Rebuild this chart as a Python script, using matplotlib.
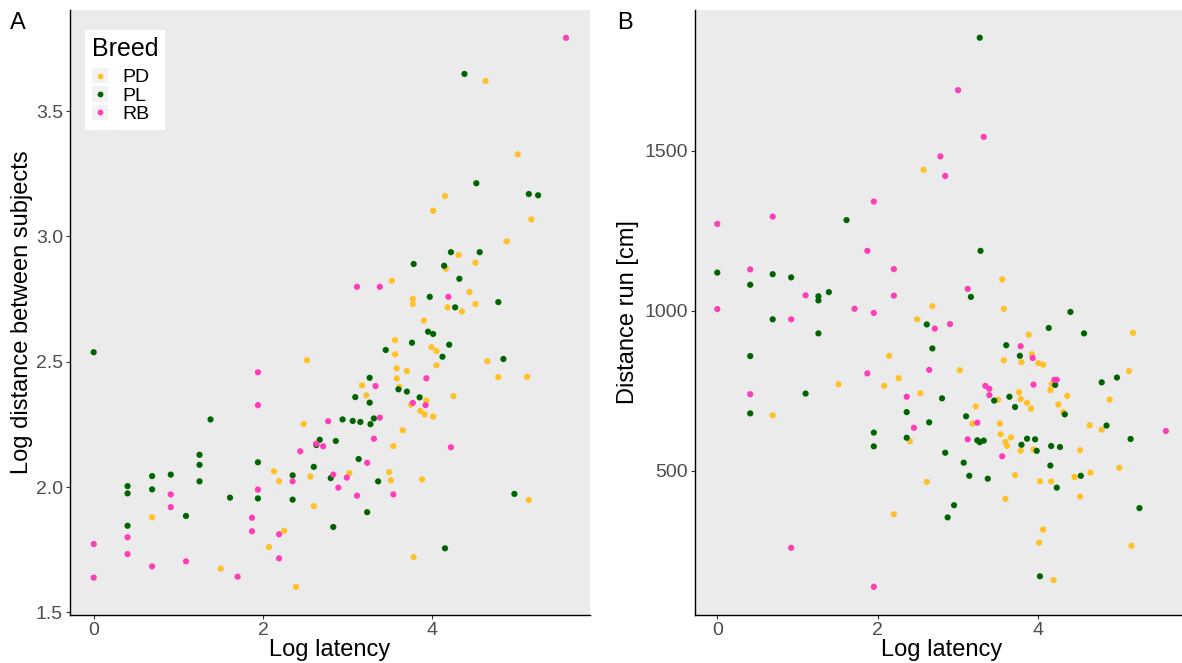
import matplotlib
matplotlib.use("Agg")
import matplotlib.pyplot as plt
from matplotlib.legend_handler import HandlerBase
from matplotlib.patches import Rectangle
from matplotlib.lines import Line2D

plt.rcParams['font.family'] = ['Liberation Sans', 'DejaVu Sans']

breeds = ["PD", "PL", "RB"]
colors = {"PD": "#FFC125", "PL": "#006400", "RB": "#FF3DB8"}

# ---------------- Panel A: log latency vs log distance between subjects
pd_lat_a = [0.69,1.50,2.52,3.56,3.56,3.58,3.70,3.58,3.17,3.61,3.22,3.75,3.93,3.86,3.91,2.48,3.65,3.54,2.13,2.19,
            2.56,3.02,3.49,3.51,3.88,2.60,2.25,2.07,3.78,2.39,3.99,4.05,4.05,4.65,4.78,5.12,4.25,4.01,5.14,4.63,
            5.01,4.15,4.01,5.17,4.88,4.31,4.16,4.51,3.52,4.44,3.77,3.77,4.18,4.35,4.51,3.90]
pd_dist_a = [1.880,1.675,2.506,2.586,2.530,2.474,2.463,2.434,2.406,2.400,2.366,2.329,2.345,2.304,2.290,2.252,2.227,2.164,2.063,2.024,
             2.042,2.056,2.060,2.027,2.031,1.924,1.826,1.761,1.721,1.602,2.558,2.543,2.486,2.502,2.439,2.440,2.363,2.281,1.949,3.620,
             3.327,3.161,3.102,3.068,2.980,2.926,2.871,2.895,2.823,2.778,2.751,2.730,2.717,2.701,2.730,2.664]

pl_lat_a = [0.00,1.38,1.25,1.25,1.25,1.94,0.69,0.91,0.40,0.40,0.69,1.94,1.61,1.09,0.40,3.76,3.45,3.95,3.26,3.60,
            3.70,3.09,3.26,3.85,2.94,3.06,3.15,3.31,3.27,2.67,2.63,2.86,3.13,2.60,2.35,2.80,3.36,2.35,3.23,2.83,
            4.01,4.20,4.12,4.84,4.97,4.15,4.38,4.52,5.14,5.25,4.22,4.56,3.78,4.14,4.32,3.97,4.27,4.78]
pl_dist_a = [2.538,2.270,2.129,2.089,2.023,2.099,2.044,2.050,2.004,1.975,1.991,1.955,1.958,1.885,1.846,2.576,2.547,2.620,2.436,2.390,
             2.381,2.359,2.337,2.358,2.270,2.264,2.260,2.274,2.251,2.189,2.168,2.184,2.112,2.081,2.047,2.036,2.023,1.950,1.900,1.841,
             2.611,2.568,2.520,2.511,1.973,1.756,3.648,3.212,3.169,3.164,2.937,2.937,2.890,2.883,2.831,2.759,2.717,2.738]

rb_lat_a = [1.94,1.94,0.91,1.94,0.91,1.87,1.87,0.40,0.00,0.40,1.09,0.69,1.70,0.00,3.93,3.33,3.77,3.92,2.77,3.38,
            3.31,2.63,2.71,2.44,3.23,2.35,2.83,2.99,2.89,3.54,3.11,2.19,2.19,4.22,5.58,3.11,3.38,4.19]
rb_dist_a = [2.458,2.327,1.971,1.990,1.920,1.878,1.824,1.800,1.773,1.733,1.704,1.684,1.643,1.639,2.434,2.403,2.336,2.327,2.263,2.277,
             2.193,2.173,2.163,2.143,2.097,2.023,2.050,2.038,1.998,1.971,1.966,1.812,1.716,2.159,3.792,2.799,2.799,2.759]

# ---------------- Panel B: log latency vs distance run [cm]
pd_lat_b = [1.51,0.69,2.57,3.55,2.68,3.57,2.49,3.88,3.79,3.57,2.14,3.02,2.26,2.08,2.53,3.50,3.76,3.78,3.86,3.22,
            3.18,3.52,2.40,3.53,3.66,3.59,3.61,3.78,3.71,2.61,3.59,2.20,5.18,3.92,4.00,4.06,5.13,4.17,4.15,4.36,
            3.91,4.25,4.89,4.31,4.64,4.79,3.94,4.52,5.01,4.45,4.65,4.02,4.16,4.52,4.06,4.01,5.16,4.19]
pd_run_b = [771,674,1441,1099,1015,1007,974,926,840,846,860,815,790,766,743,723,746,725,713,702,
            648,648,593,615,605,591,578,563,487,466,413,365,932,865,837,832,812,772,753,735,
            695,708,723,684,643,629,567,565,510,481,495,468,467,420,317,276,266,159]

pl_lat_b = [1.61,0.00,0.69,0.92,0.41,1.26,1.26,1.39,0.69,1.26,0.41,1.10,0.41,1.95,1.95,3.27,3.28,3.16,2.61,3.60,
            3.77,2.68,2.80,3.45,3.64,3.71,3.10,2.36,2.64,2.36,3.24,3.27,3.32,3.86,3.79,2.84,3.07,3.14,3.37,2.95,
            2.87,4.40,4.13,4.57,4.98,4.79,4.21,4.33,4.85,5.15,3.96,3.98,4.16,4.27,4.15,4.53,4.23,5.26,4.02]
pl_run_b = [1284,1120,1115,1105,1082,1046,1033,1059,974,930,859,742,680,620,577,1854,1188,1044,958,893,
            860,883,727,720,732,700,671,684,652,604,596,590,595,601,582,557,526,485,476,393,
            355,997,947,930,792,777,769,677,642,600,599,563,578,575,517,485,448,384,171]

rb_lat_b = [1.95,0.00,0.69,1.87,0.41,1.10,1.71,1.95,0.00,0.92,1.87,0.41,0.92,1.95,3.00,3.32,2.78,2.84,2.20,3.12,
            2.20,2.71,2.90,3.78,2.64,2.36,3.34,3.39,3.39,3.24,2.45,3.12,3.55,3.93,4.20,4.23,3.94,5.59]
rb_run_b = [1342,1272,1295,1188,1130,1049,1007,994,1006,974,805,740,260,138,1690,1544,1483,1422,1131,1069,
            1048,945,959,890,816,732,766,757,737,651,635,599,546,853,785,785,770,625]

panel_a = {"PD": (pd_lat_a, pd_dist_a), "PL": (pl_lat_a, pl_dist_a), "RB": (rb_lat_a, rb_dist_a)}
panel_b = {"PD": (pd_lat_b, pd_run_b), "PL": (pl_lat_b, pl_run_b), "RB": (rb_lat_b, rb_run_b)}

W, H = 1182, 663
fig = plt.figure(figsize=(W / 100, H / 100), dpi=100)

def fx(px):
    return px / W

def fy(py):
    return 1 - py / H

axA = fig.add_axes([fx(70), fy(615), fx(590) - fx(70), fy(10) - fy(615)])
axB = fig.add_axes([fx(695), fy(615), fx(1187.5) - fx(695), fy(10) - fy(615)])

def style(ax):
    ax.set_facecolor("#EBEBEB")
    for s in ["top", "right"]:
        ax.spines[s].set_visible(False)
    for s in ["left", "bottom"]:
        ax.spines[s].set_color("black")
        ax.spines[s].set_linewidth(1.0)
    ax.tick_params(axis="both", colors="#333333", labelcolor="#4D4D4D",
                   labelsize=14, length=3, width=0.8, pad=2)
    ax.set_xlabel("Log latency", fontsize=17, color="black", labelpad=0)

scatters = {}
for ax, data in [(axA, panel_a), (axB, panel_b)]:
    style(ax)
    for b in breeds:
        x, y = data[b]
        sc = ax.scatter(x, y, s=20, color=colors[b], edgecolors="none", zorder=3, label=b)
        if ax is axA:
            scatters[b] = sc

axA.set_xlim(-0.28, 5.863)
axA.set_ylim(1.490, 3.903)
axA.set_xticks([0, 2, 4])
axA.set_yticks([1.5, 2.0, 2.5, 3.0, 3.5])
axA.set_yticklabels(["1.5", "2.0", "2.5", "3.0", "3.5"])
axA.set_ylabel("Log distance between subjects", fontsize=17, color="black", labelpad=2)

axB.set_xlim(-0.278, 5.859)
axB.set_ylim(50, 1940.6)
axB.set_xticks([0, 2, 4])
axB.set_yticks([500, 1000, 1500])
axB.set_ylabel("Distance run [cm]", fontsize=17, color="black", labelpad=4)

fig.text(fx(10), fy(23), "A", fontsize=17, va="center", ha="left")
fig.text(fx(617), fy(23), "B", fontsize=17, va="center", ha="left")


class KeyHandler(HandlerBase):
    def create_artists(self, legend, orig_handle, xdescent, ydescent,
                       width, height, fontsize, trans):
        side = min(width, height)
        x0 = -xdescent + (width - side) / 2
        y0 = -ydescent + (height - side) / 2
        rect = Rectangle((x0, y0), side, side, facecolor="#F2F2F2",
                         edgecolor="none", transform=trans)
        dot = Line2D([x0 + side / 2], [y0 + side / 2], marker="o", linestyle="none",
                     markersize=4.2, markerfacecolor=orig_handle.get_facecolor()[0],
                     markeredgecolor="none", transform=trans)
        return [rect, dot]


handles = [scatters[b] for b in breeds]
leg = axA.legend(handles, breeds, title="Breed", loc="upper left",
                 bbox_to_anchor=((85 - 70) / 520, (615 - 30) / 605),
                 borderaxespad=0, frameon=True, fancybox=False,
                 facecolor="white", edgecolor="none", framealpha=1,
                 fontsize=14, title_fontsize=18, handlelength=0.85, handleheight=0.85,
                 labelspacing=0.0, handletextpad=0.7, borderpad=0.35,
                 handler_map={type(scatters["PD"]): KeyHandler()})
leg._legend_box.align = "left"
leg._legend_box.sep = 5
leg.set_zorder(5)

fig.savefig("out.png", dpi=100)
